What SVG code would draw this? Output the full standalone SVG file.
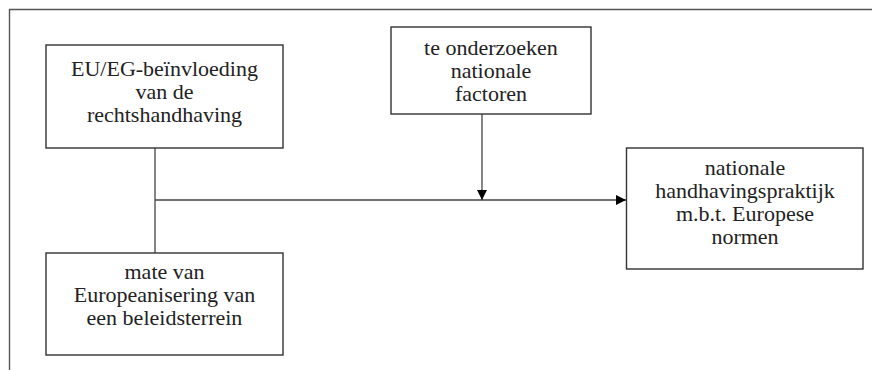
<svg xmlns="http://www.w3.org/2000/svg" width="872" height="370" viewBox="0 0 872 370">
<style>
.box{fill:#fff;stroke:#333;stroke-width:1.4}
.frame{fill:none;stroke:#555;stroke-width:1.4}
.ln{fill:none;stroke:#444;stroke-width:1.3}
.t{font-family:"Liberation Serif",serif;font-size:22px;fill:#222}
</style>
<defs>
<marker id="ah" viewBox="0 0 10 10" refX="10" refY="5" markerWidth="10" markerHeight="10" markerUnits="userSpaceOnUse" orient="auto">
<path d="M0,0 L10,5 L0,10 z" fill="#000"/>
</marker>
</defs>
<path class="frame" d="M9.5,370 V9.5 H872"/>
<g id="connectors">
<path class="ln" d="M155,148 V253"/>
<path class="ln" d="M155,200 H626" marker-end="url(#ah)"/>
<path class="ln" d="M482,114 V200" marker-end="url(#ah)"/>
</g>
<g id="node-eu">
<rect class="box" x="46" y="45" width="237" height="103"/>
<text class="t" x="71" y="76">EU/EG-beïnvloeding</text>
<text class="t" x="135.5" y="99">van de</text>
<text class="t" x="86.9" y="122">rechtshandhaving</text>
</g>
<g id="node-factoren">
<rect class="box" x="391" y="27" width="200" height="87"/>
<text class="t" x="424.1" y="54.5">te onderzoeken</text>
<text class="t" x="450.7" y="77.5">nationale</text>
<text class="t" x="455" y="100.5">factoren</text>
</g>
<g id="node-mate">
<rect class="box" x="46" y="253" width="237" height="102"/>
<text class="t" x="124.5" y="279">mate van</text>
<text class="t" x="73.8" y="302">Europeanisering van</text>
<text class="t" x="86.6" y="325">een beleidsterrein</text>
</g>
<g id="node-praktijk">
<rect class="box" x="626.5" y="148" width="236.5" height="121"/>
<text class="t" x="704.7" y="175">nationale</text>
<text class="t" x="655.2" y="198">handhavingspraktijk</text>
<text class="t" x="675.9" y="221">m.b.t. Europese</text>
<text class="t" x="711.4" y="244">normen</text>
</g>
</svg>
